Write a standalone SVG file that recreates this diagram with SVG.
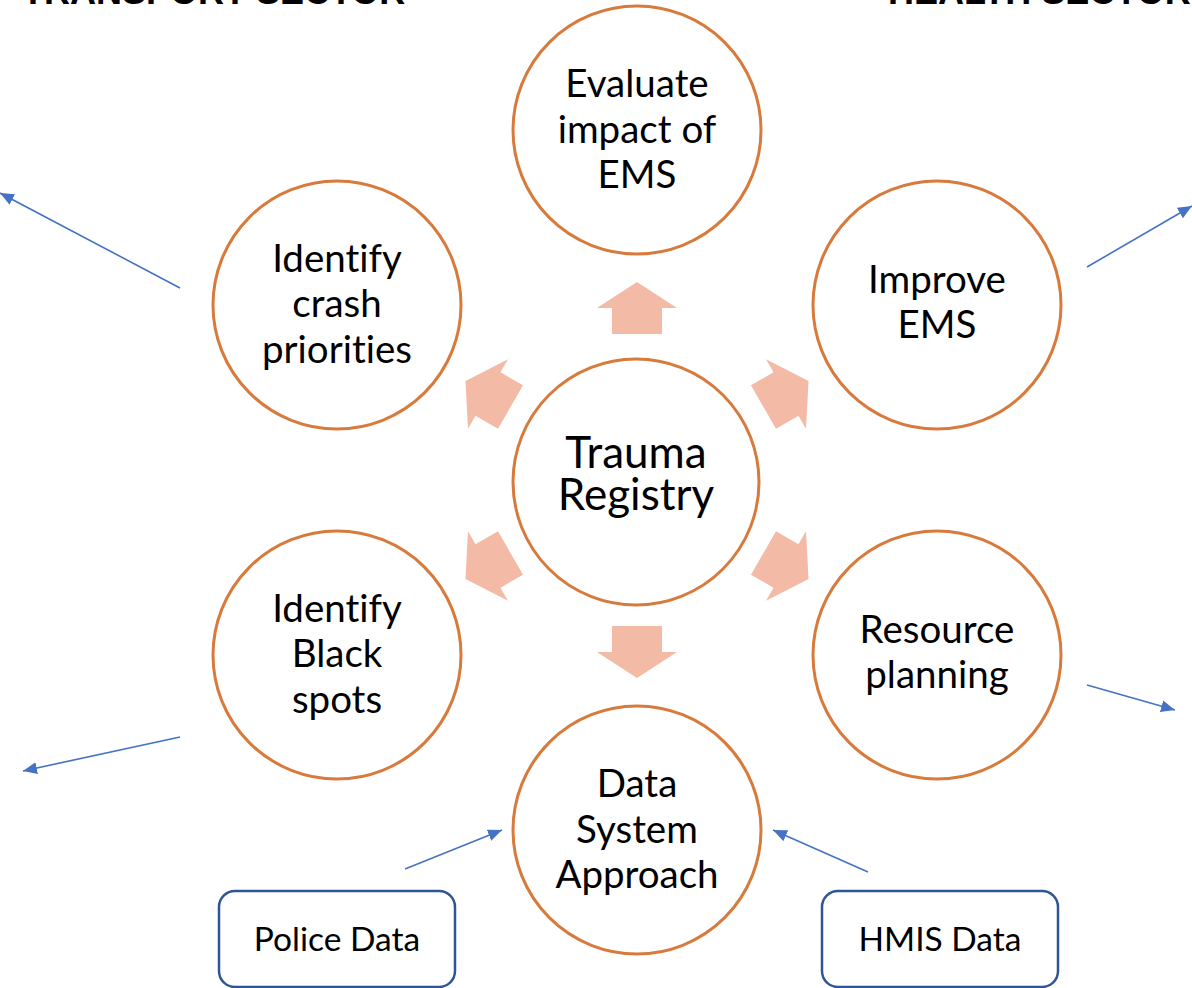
<svg xmlns="http://www.w3.org/2000/svg" width="1192" height="988" viewBox="0 0 1192 988">
<style>
.c{fill:#fff;stroke:#D87A3B;stroke-width:3}
.t{font-family:Lato,"Open Sans","Liberation Sans",sans-serif;font-size:38.5px;fill:#000;text-anchor:middle;font-variant-ligatures:none}
.tc{font-size:44px}
.b{fill:#fff;stroke:#2F5597;stroke-width:2.5}
.tb{font-size:33.5px}
.h{font-family:"Liberation Sans",Arial,sans-serif;font-weight:bold;font-size:36px;fill:#000}
.ba{fill:#F3BAA5}
.ln{stroke:#4472C4;stroke-width:1.6;fill:none;marker-end:url(#ah)}
</style>
<defs>
<marker id="ah" viewBox="0 0 14 12" markerWidth="14" markerHeight="12" refX="14" refY="6" orient="auto" markerUnits="userSpaceOnUse">
<path d="M0,0 L14,6 L0,12 Z" fill="#4472C4"/>
</marker>
<path id="blk" d="M0,-26 L40,0 L25,0 L25,26 L-25,26 L-25,0 L-40,0 Z"/>
</defs>
<rect width="1192" height="988" fill="#fff"/>
<g id="headers">
<text class="h" x="22" y="4">TRANSPORT SECTOR</text>
<text class="h" x="888" y="4">HEALTH SECTOR</text>
</g>
<g id="block-arrows" class="ba">
<use href="#blk" transform="translate(637,308)"/>
<use href="#blk" transform="translate(488,394) rotate(-60)"/>
<use href="#blk" transform="translate(786,394) rotate(60)"/>
<use href="#blk" transform="translate(786,566) rotate(120)"/>
<use href="#blk" transform="translate(488,566) rotate(-120)"/>
<use href="#blk" transform="translate(637,652) rotate(180)"/>
</g>
<g id="connectors">
<line class="ln" x1="180" y1="288" x2="0" y2="193"/>
<line class="ln" x1="1087" y1="267" x2="1192" y2="206"/>
<line class="ln" x1="180" y1="737" x2="23" y2="771"/>
<line class="ln" x1="1087" y1="685" x2="1175" y2="710"/>
<line class="ln" x1="405" y1="869" x2="502" y2="830"/>
<line class="ln" x1="868" y1="872" x2="773" y2="830"/>
</g>
<g id="node-center">
<circle class="c" cx="636" cy="482" r="123"/>
<text class="t tc" x="636" y="468">Trauma</text>
<text class="t tc" x="636" y="510">Registry</text>
</g>
<g id="node-evaluate">
<circle class="c" cx="637" cy="130" r="124"/>
<text class="t" x="637" y="97">Evaluate</text>
<text class="t" x="637" y="143">impact of</text>
<text class="t" x="637" y="188">EMS</text>
</g>
<g id="node-crash">
<circle class="c" cx="337" cy="305" r="124"/>
<text class="t" x="337" y="272">Identify</text>
<text class="t" x="337" y="317">crash</text>
<text class="t" x="337" y="363">priorities</text>
</g>
<g id="node-improve">
<circle class="c" cx="937" cy="305" r="124"/>
<text class="t" x="937" y="293">Improve</text>
<text class="t" x="937" y="338">EMS</text>
</g>
<g id="node-blackspots">
<circle class="c" cx="337" cy="655" r="124"/>
<text class="t" x="337" y="622">Identify</text>
<text class="t" x="337" y="667">Black</text>
<text class="t" x="337" y="713">spots</text>
</g>
<g id="node-resource">
<circle class="c" cx="937" cy="655" r="124"/>
<text class="t" x="937" y="643">Resource</text>
<text class="t" x="937" y="688">planning</text>
</g>
<g id="node-data">
<circle class="c" cx="637" cy="830" r="124"/>
<text class="t" x="637" y="797">Data</text>
<text class="t" x="637" y="843">System</text>
<text class="t" x="637" y="888">Approach</text>
</g>
<g id="node-police">
<rect class="b" x="219" y="891" width="236" height="96" rx="16"/>
<text class="t tb" x="337" y="951">Police Data</text>
</g>
<g id="node-hmis">
<rect class="b" x="822" y="891" width="236" height="96" rx="16"/>
<text class="t tb" x="940" y="951">HMIS Data</text>
</g>
</svg>
